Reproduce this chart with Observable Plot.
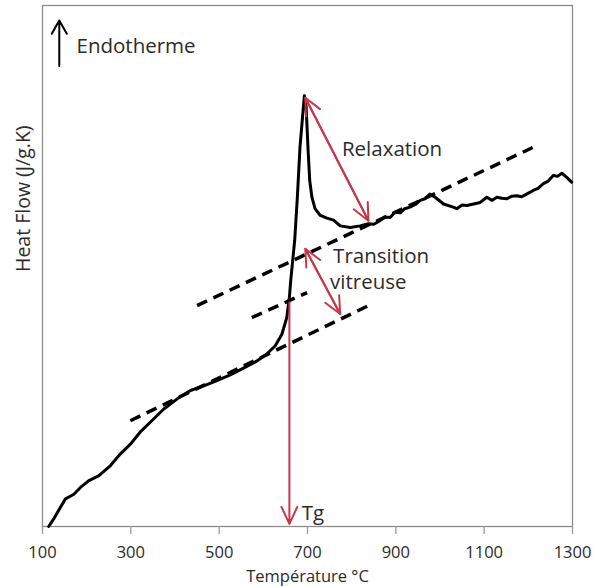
<!DOCTYPE html>
<html>
<head>
<meta charset="utf-8">
<script src="https://cdn.jsdelivr.net/npm/d3@7"></script>
<script src="https://cdn.jsdelivr.net/npm/@observablehq/plot@0.6"></script>
<style>
  html, body { margin: 0; padding: 0; background: #fff; }
  #chart svg { display: block; font-family: "Open Sans", sans-serif; }
</style>
</head>
<body>
<div id="chart"></div>
<script>
// DSC curve: temperature (°C) and heat flow (arbitrary units, no y ticks)
const temperature = [114, 125, 140, 152, 171, 186, 205, 227, 254, 276, 299, 321, 344, 374, 405, 435, 465, 495, 525, 555, 586, 608, 627, 642, 653, 659, 662, 671, 677, 683, 690, 693, 697, 701, 705, 710, 717, 729, 744, 759, 774, 797, 819, 838, 850, 864, 875, 887, 898, 910, 920, 932, 944, 955, 966, 977, 989, 1008, 1030, 1038, 1050, 1061, 1076, 1091, 1106, 1118, 1129, 1140, 1151, 1163, 1174, 1185, 1196, 1211, 1222, 1234, 1245, 1257, 1266, 1276, 1287, 1298];
const heatFlow = [0, 1.4, 3.6, 5.3, 6.2, 7.5, 8.8, 9.7, 11.7, 13.9, 15.8, 18.1, 20.0, 22.5, 24.5, 26.1, 27.0, 28.0, 29.1, 30.4, 31.8, 33.1, 34.7, 36.9, 40.1, 44.0, 47.2, 54.9, 63.2, 72.8, 79.8, 82.7, 80.5, 72.8, 66.4, 63.2, 61.0, 59.7, 59.2, 58.8, 57.7, 57.4, 57.7, 58.1, 58.0, 58.7, 59.4, 59.3, 60.3, 60.2, 61.0, 61.3, 61.8, 62.6, 62.9, 63.8, 63.2, 61.9, 61.3, 61.0, 61.7, 61.6, 61.9, 62.2, 63.2, 62.6, 63.2, 63.0, 62.9, 63.4, 63.5, 63.3, 63.8, 64.5, 64.9, 65.8, 66.3, 67.4, 67.2, 67.8, 67.0, 66.1];

// Dashed baselines (tangents): start/end temperature and heat flow
const dashT1 = [450, 574, 299];
const dashV1 = [42.4, 40.1, 20.3];
const dashT2 = [1219, 699, 838];
const dashV2 = [73.1, 44.9, 42.4];

// Red double-headed arrows (Relaxation, Transition vitreuse) and Tg arrow
const arrowT1 = [695, 695];
const arrowV1 = [82.3, 53.3];
const arrowT2 = [838, 774];
const arrowV2 = [58.7, 40.8];
const tgT = 659;
const tgTop = 43.0;
const tgBottom = 0.5;

// Endotherme arrow
const endoT = 138;
const endoV1 = 88.4;
const endoV2 = 97.1;

// Annotation labels
const labelText = ["Relaxation", "Transition", "vitreuse", "Endotherme", "Tg"];
const labelT = [778, 758, 751, 177, 687];
const labelV = [72.4, 51.9, 46.9, 92.1, 2.5];

const xTicks = [100, 300, 500, 700, 900, 1100, 1300];
const xLabel = "Température °C";
const yLabel = "Heat Flow (J/g.K)";

const curve = temperature.map((t, i) => ({t, v: heatFlow[i]}));
const dashes = dashT1.map((t, i) => ({x1: t, y1: dashV1[i], x2: dashT2[i], y2: dashV2[i]}));
const arrowsFwd = arrowT1.map((t, i) => ({x1: t, y1: arrowV1[i], x2: arrowT2[i], y2: arrowV2[i]}));
const arrowsBack = arrowsFwd.map(d => ({x1: d.x2, y1: d.y2, x2: d.x1, y2: d.y1}));
const labels = labelText.map((s, i) => ({s, t: labelT[i], v: labelV[i]}));

const red = "#c8374a";

const chart = Plot.plot({
  width: 597,
  height: 587,
  marginLeft: 42,
  marginRight: 25,
  marginTop: 5,
  marginBottom: 61,
  style: {fontFamily: "Open Sans, sans-serif", background: "#fff"},
  x: {domain: [100, 1300]},
  y: {domain: [0, 100], axis: null},
  marks: [
    Plot.frame({stroke: "#8c8c8c", strokeWidth: 1.3}),
    Plot.axisX({ticks: xTicks, tickSize: 8, tickFormat: () => "", label: null, stroke: "#9a9a9a", strokeWidth: 1.3}),
    Plot.axisX({ticks: xTicks, tickSize: 0, tickPadding: 20, tickFormat: d => String(d), fontSize: 16.5, fill: "#2b2b2b",
      label: xLabel, labelAnchor: "center", labelArrow: "none", labelOffset: 55}),
    Plot.text([yLabel], {frameAnchor: "left", rotate: -90, dx: -19, dy: 6, fontSize: 19.5, fill: "#2b2b2b"}),
    Plot.link(dashes, {x1: "x1", y1: "y1", x2: "x2", y2: "y2", stroke: "#000", strokeWidth: 3.5, strokeDasharray: "11,7"}),
    Plot.line(curve, {x: "t", y: "v", stroke: "#000", strokeWidth: 3, curve: "linear", strokeLinejoin: "round"}),
    Plot.arrow(arrowsFwd, {x1: "x1", y1: "y1", x2: "x2", y2: "y2", stroke: red, strokeWidth: 2, headLength: 14, headAngle: 50}),
    Plot.arrow(arrowsBack, {x1: "x1", y1: "y1", x2: "x2", y2: "y2", stroke: red, strokeWidth: 2, headLength: 14, headAngle: 50}),
    Plot.arrow([{x1: tgT, y1: tgTop, x2: tgT, y2: tgBottom}], {x1: "x1", y1: "y1", x2: "x2", y2: "y2", stroke: red, strokeWidth: 2, headLength: 14, headAngle: 50}),
    Plot.arrow([{x1: endoT, y1: endoV1, x2: endoT, y2: endoV2}], {x1: "x1", y1: "y1", x2: "x2", y2: "y2", stroke: "#000", strokeWidth: 2, headLength: 12, headAngle: 60}),
    Plot.text(labels, {x: "t", y: "v", text: "s", textAnchor: "start", lineAnchor: "middle", fontSize: 20.5, fill: "#2b2b2b"})
  ]
});
document.getElementById("chart").appendChild(chart);
</script>
</body>
</html>
